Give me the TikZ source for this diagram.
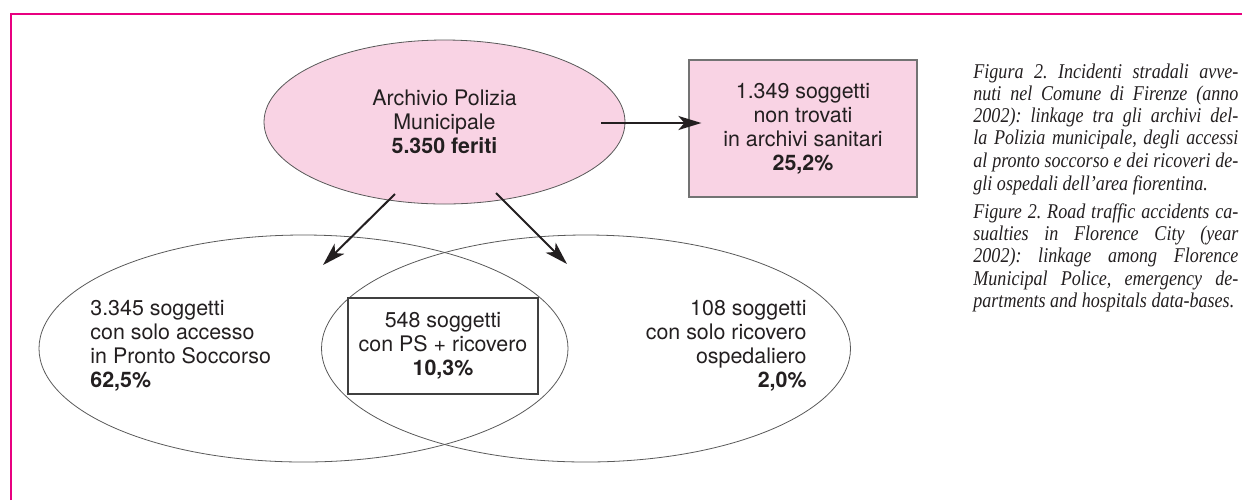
\documentclass[tikz,border=0pt]{standalone}
\usepackage{fontspec}
\setmainfont{TeX Gyre Heros}
\newfontfamily\capfont[FakeStretch=0.86]{Liberation Serif}
\usetikzlibrary{shapes.geometric,arrows.meta}
\definecolor{frameMag}{RGB}{232,0,128}
\definecolor{boxPink}{RGB}{249,211,228}
\definecolor{inkGray}{RGB}{35,31,32}
\newlength{\capw}\setlength{\capw}{132.5pt}
\frenchspacing

\begin{document}
\begin{tikzpicture}[x=0.5pt,y=-0.5pt,
    every node/.style={text=inkGray, font=\fontsize{10.7}{12}\selectfont},
    venn/.style={ellipse, draw=black!65, line width=0.4pt, inner sep=0pt},
    linkarrow/.style={-{Stealth[length=11.5pt,width=7pt,inset=3pt]}, line width=1pt, draw=inkGray},
    capline/.style={anchor=base west, inner sep=0pt, font=\capfont\itshape\fontsize{10.5}{11}\selectfont}]
  \useasboundingbox (0,0) rectangle (1242,500);
  \draw[frameMag, line width=1pt] (11,500) -- (11,14.3) -- (1242,14.3);

  \node[venn, fill=boxPink, minimum width=180.5pt, minimum height=82pt, align=center] (police) at (444.5,122) {Archivio Polizia\\Municipale\\\textbf{5.350 feriti}};
  \node[draw=black!55, fill=boxPink, line width=0.6pt, minimum width=114pt, minimum height=68.5pt, align=center] (nontrov) at (803,128.5) {1.349 soggetti\\non trovati\\in archivi sanitari\\\textbf{25,2\%}};

  \node[venn, minimum width=264.5pt, minimum height=113.5pt] (ps) at (303.5,348.5) {};
  \node[venn, minimum width=264.5pt, minimum height=113.5pt] (hosp) at (586,348.5) {};
  \node[anchor=west, align=left, inner sep=0pt] (pstxt) at (90,346) {3.345 soggetti\\con solo accesso\\in Pronto Soccorso\\\textbf{62,5\%}};
  \node[anchor=east, align=right, inner sep=0pt] (hosptxt) at (807,346) {108 soggetti\\con solo ricovero\\ospedaliero\\\textbf{2,0\%}};
  \node[draw=black!75, line width=0.6pt, minimum width=95pt, minimum height=48pt, align=center] (both) at (443,346) {548 soggetti\\con PS + ricovero\\\textbf{10,3\%}};

  \coordinate (pmE) at (601,123);
  \coordinate (pmL) at (395,194);
  \coordinate (pmR) at (496,193);
  \coordinate (psIn) at (323,265);
  \coordinate (hospIn) at (567,264);
  \draw[linkarrow, shorten >=-6.5pt] (pmE) -- (pmE -| nontrov.west);
  \draw[linkarrow] (pmL) -- (psIn);
  \draw[linkarrow] (pmR) -- (hospIn);

  \foreach \y/\t [count=\i] in {78/{Figura 2. Incidenti stradali avve-}, 100/{nuti nel Comune di Firenze (anno}, 122/{2002): linkage tra gli archivi del-}, 144/{la Polizia municipale, degli accessi}, 167/{al pronto soccorso e dei ricoveri de-}}
    \node[capline] (capIt\i) at (973,\y) {\makebox[\capw][s]{\t}};
  \node[capline] (capItEnd) at (973,190) {gli ospedali dell’area fiorentina.};
  \foreach \y/\t [count=\i] in {218/{Figure 2. Road traffic accidents ca-}, 240/{sualties in Florence City (year}, 262/{2002): linkage among Florence}, 285/{Municipal Police, emergency de-}}
    \node[capline] (capEn\i) at (973,\y) {\makebox[\capw][s]{\t}};
  \node[capline] (capEnEnd) at (973,307) {partments and hospitals data-bases.};
\end{tikzpicture}
\end{document}
